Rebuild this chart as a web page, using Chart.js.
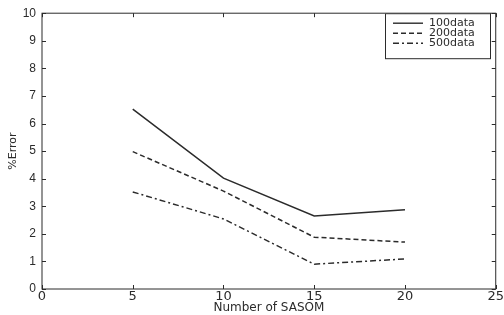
<!DOCTYPE html>
<html>
<head>
<meta charset="utf-8">
<script src="https://cdn.jsdelivr.net/npm/chart.js@4.4.0/dist/chart.umd.min.js"></script>
<style>
  html, body { margin: 0; padding: 0; background: #fff; }
  #wrap { width: 504px; height: 315px; }
</style>
</head>
<body>
<div id="wrap"><canvas id="chart" width="504" height="315"></canvas></div>
<script>
const sasomCounts = [5, 10, 15, 20];
const err100 = [6.52, 4.02, 2.65, 2.87];
const err200 = [4.98, 3.55, 1.88, 1.70];
const err500 = [3.52, 2.54, 0.90, 1.09];
const seriesNames = ['100data', '200data', '500data'];
const xTicks = [0, 5, 10, 15, 20, 25];
const yTicks = [0, 1, 2, 3, 4, 5, 6, 7, 8, 9, 10];

const ink = '#2b2b2b';
const font = 'Arial, "Liberation Sans", sans-serif';
const wide = '"DejaVu Sans", sans-serif';

function points(values) {
    return sasomCounts.map((x, i) => ({ x, y: values[i] }));
}

function series(label, values, dash) {
    return {
        label,
        data: points(values),
        borderColor: ink,
        borderWidth: 1.5,
        borderDash: dash,
        pointRadius: 0,
        fill: false,
        tension: 0,
    };
}

// frame, inward ticks and legend box, matlab style
const frame = {
    id: 'frame',
    afterDraw(chart) {
        const { ctx, chartArea: a, scales } = chart;
        ctx.save();
        ctx.strokeStyle = ink;
        ctx.lineWidth = 1;
        ctx.strokeRect(a.left, a.top, a.right - a.left, a.bottom - a.top);
        const t = 4;
        ctx.beginPath();
        xTicks.forEach(v => {
            const px = Math.round(scales.x.getPixelForValue(v)) + 0.5;
            ctx.moveTo(px, a.bottom); ctx.lineTo(px, a.bottom - t);
            ctx.moveTo(px, a.top); ctx.lineTo(px, a.top + t);
        });
        yTicks.forEach(v => {
            const py = Math.round(scales.y.getPixelForValue(v)) + 0.5;
            ctx.moveTo(a.left, py); ctx.lineTo(a.left + t, py);
            ctx.moveTo(a.right, py); ctx.lineTo(a.right - t, py);
        });
        ctx.stroke();

        // legend
        const bx = 385, bw = 105, by = a.top, bh = 45;
        ctx.fillStyle = '#fff';
        ctx.fillRect(bx, by, bw, bh);
        ctx.strokeRect(bx + 0.5, by + 0.5, bw, bh);
        ctx.font = '11px ' + wide;
        ctx.textBaseline = 'middle';
        ctx.fillStyle = ink;
        chart.data.datasets.forEach((ds, i) => {
            const y = by + 10 + i * 10;
            ctx.setLineDash(ds.borderDash || []);
            ctx.lineWidth = 1.4;
            ctx.beginPath();
            ctx.moveTo(bx + 8, y);
            ctx.lineTo(bx + 38, y);
            ctx.stroke();
            ctx.setLineDash([]);
            ctx.fillText(ds.label, bx + 44, y);
        });
        ctx.restore();
    }
};

new Chart(document.getElementById('chart'), {
    type: 'line',
    data: {
        datasets: [
            series(seriesNames[0], err100, []),
            series(seriesNames[1], err200, [5, 3]),
            series(seriesNames[2], err500, [6, 3, 2, 3]),
        ],
    },
    options: {
        responsive: false,
        animation: false,
        layout: { padding: { top: 13, right: 7, left: 0, bottom: 0 } },
        plugins: {
            legend: { display: false },
            tooltip: { enabled: false },
        },
        scales: {
            x: {
                type: 'linear',
                min: 0,
                max: 25,
                afterBuildTicks: s => { s.ticks = xTicks.map(value => ({ value })); },
                afterFit: s => { s.height = 26; },
                grid: { display: false, drawTicks: false },
                border: { display: false },
                ticks: { color: ink, padding: 0, font: { family: wide, size: 13 } },
                title: {
                    display: true,
                    text: 'Number of SASOM',
                    color: ink,
                    padding: { top: 0, bottom: 0 },
                    font: { family: wide, size: 12 },
                },
            },
            y: {
                min: 0,
                max: 10,
                afterBuildTicks: s => { s.ticks = yTicks.map(value => ({ value })); },
                afterFit: s => { s.width = 42; },
                grid: { display: false, drawTicks: false },
                border: { display: false },
                ticks: { color: ink, padding: 6, font: { family: font, size: 12 } },
                title: {
                    display: true,
                    text: '%Error',
                    color: ink,
                    padding: { top: 7, bottom: 0 },
                    font: { family: wide, size: 11 },
                },
            },
        },
    },
    plugins: [frame],
});
</script>
</body>
</html>
